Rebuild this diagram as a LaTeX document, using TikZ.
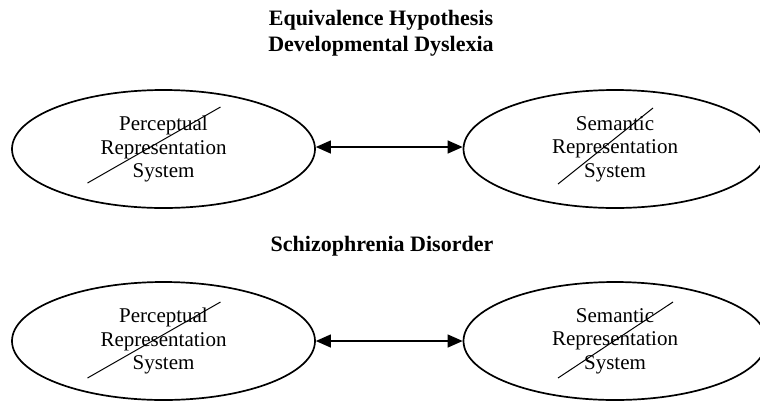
\documentclass[tikz,border=0pt]{standalone}
\usepackage{fontspec}
\setmainfont{Liberation Serif}
\usetikzlibrary{shapes.geometric,arrows.meta,calc}

\begin{document}
\begin{tikzpicture}[x=1pt,y=-1pt,
  system/.style={draw,ellipse,line width=1.7pt,minimum width=303pt,minimum height=118pt,
    inner sep=0pt,align=center,font=\fontsize{21}{23.5}\selectfont},
  heading/.style={align=center,font=\fontsize{22}{26}\selectfont\bfseries},
  link/.style={{Triangle[length=15pt,width=13pt]}-{Triangle[length=15pt,width=13pt]},line width=1.2pt},
  strike/.style={line width=1pt}]

\useasboundingbox (0,0) rectangle (760,400);

% Titles
\node[heading] (dys) at (381,33) {Equivalence Hypothesis\\Developmental Dyslexia};
\node[heading] (sch) at (382,246) {Schizophrenia Disorder};

% Systems
\node[system] (prs1) at (163.5,149) {Perceptual\\Representation\\System};
\node[system] (srs1) at (615,149) {Semantic\\Representation\\System};
\node[system] (prs2) at (163.5,341) {Perceptual\\Representation\\System};
\node[system] (srs2) at (615,341) {Semantic\\Representation\\System};

% Links
\draw[link] ([yshift=2pt]prs1.east) -- ([yshift=2pt]srs1.west);
\draw[link] (prs2.east) -- (srs2.west);

% Crossed out
\draw[strike] ($(prs1.center)+(-76,34)$) -- ($(prs1.center)+(57,-42)$);
\draw[strike] ($(srs1.center)+(-57,35)$) -- ($(srs1.center)+(38,-41)$);
\draw[strike] ($(prs2.center)+(-76,37)$) -- ($(prs2.center)+(57,-39)$);
\draw[strike] ($(srs2.center)+(-57,37)$) -- ($(srs2.center)+(58,-39)$);

\end{tikzpicture}
\end{document}
